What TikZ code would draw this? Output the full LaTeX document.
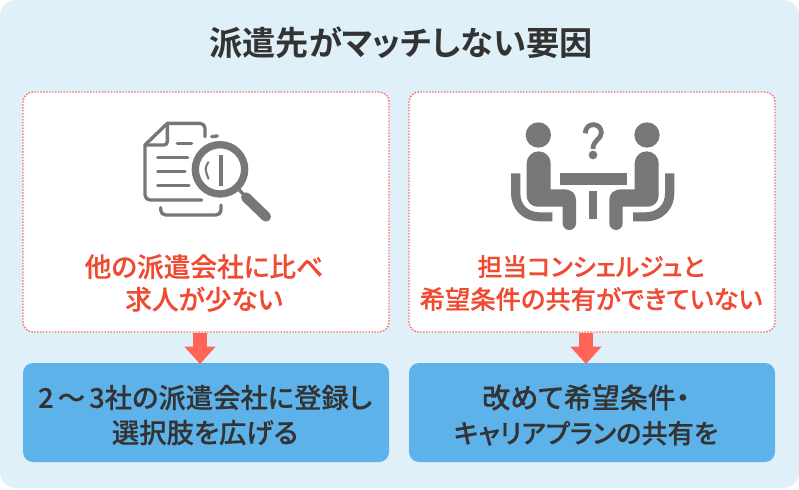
\documentclass[tikz,border=0pt]{standalone}
\usepackage{fontspec}
\setmainfont[RawFeature=+palt,BoldFont={* Medium},BoldFeatures={FakeBold=0.3}]{Noto Sans CJK JP}
\newfontfamily\titlefont[RawFeature=+palt]{Noto Sans CJK JP Bold}
\usetikzlibrary{arrows.meta}
\definecolor{bgblue}{HTML}{E0F0F9}
\definecolor{boxblue}{HTML}{5EB2EA}
\definecolor{redtxt}{HTML}{F04A32}
\definecolor{arrowred}{HTML}{FF6557}
\definecolor{dottedred}{HTML}{F7736A}
\definecolor{icongray}{HTML}{777777}
\definecolor{darktxt}{HTML}{333333}
\tikzset{
  px/.style={x=0.75pt,y=-0.75pt},
  panel/.style={draw=dottedred,fill=white,line width=1.1pt,dash pattern=on 1.1pt off 1.1pt,rounded corners=7.5pt,minimum width=274.5pt,minimum height=180pt,inner sep=0pt},
  actionbox/.style={fill=boxblue,rounded corners=7.5pt,minimum width=274.5pt,minimum height=74.25pt,inner sep=0pt,text=darktxt,font=\bfseries\fontsize{20.5pt}{26.25pt}\selectfont,align=center},
  redlabel/.style={text=redtxt,font=\bfseries\fontsize{20pt}{24.5pt}\selectfont,align=center,inner sep=0pt},
  titlelabel/.style={text=darktxt,font=\titlefont\fontsize{24.9pt}{26pt}\selectfont,inner sep=0pt},
  downarrow/.style={draw=arrowred,line width=10.5pt,-{Triangle[length=13pt,width=22.5pt,fill=arrowred]},shorten >=-1pt},
  iconline/.style={draw=icongray,line width=2.5pt,line cap=round,line join=round,fill=none},
  iconfill/.style={fill=icongray,draw=none},
  iconpx/.style={x=0.25pt,y=-0.25pt}
}
\begin{document}
\begin{tikzpicture}[px]
\useasboundingbox (0,0) rectangle (799,489);
\fill[bgblue,rounded corners=12pt] (0,0) rectangle (799,488);
\node[titlelabel] (title) at (401,43) {派遣先がマッチしない要因};
\node[panel] (p1) at (206,212) {};
\node[panel] (p2) at (592,212) {};
\node[actionbox] (a1) at (206,412.5) {};
\node[actionbox] (a2) at (592,412.5) {};
\node[actionbox,fill=none,minimum width=0pt,minimum height=0pt] (t1) at (205,415) {2\hspace{.15em}～\hspace{.15em}3社の派遣会社に登録し\\選択肢を広げる};
\node[actionbox,fill=none,minimum width=0pt,minimum height=0pt] (t2) at (586,415) {\fontsize{21pt}{26.25pt}\selectfont 改めて希望条件・\hspace{.3em}\\\fontsize{19.7pt}{26.25pt}\selectfont キャリアプランの共有を};
\node[redlabel] (r1) at (204,283) {他の派遣会社に比べ\\求人が少ない};
\node[redlabel,font=\bfseries\fontsize{19pt}{24.5pt}\selectfont] (r2) at (591,283) {\fontsize{18.6pt}{24.5pt}\selectfont 担当コンシェルジュと\\\fontsize{19pt}{24.5pt}\selectfont 希望条件の共有ができていない};
\draw[downarrow] ([xshift=-4.5pt]p1.south) -- ([xshift=-4.5pt]a1.north);
\draw[downarrow] ([xshift=-4.5pt]p2.south) -- ([xshift=-4.5pt]a2.north);
% document icon
\begin{scope}[shift={(120,100)},iconpx]
\draw[iconline] (255,110) -- (255,85) arc (0:-90:15) -- (142,70) -- (75,135) -- (75,285) arc (180:90:15) -- (245,300);
\draw[iconline] (142,72) -- (142,125) arc (0:90:10) -- (75,135);
\draw[iconline] (172,131) -- (215,131);
\draw[iconline] (275,110) -- (292,108);
\draw[iconline] (113,173) -- (203,173);
\draw[iconline] (113,215) -- (195,215);
\draw[iconline] (113,257) -- (207,257);
\draw[iconline] (122,323) -- (122,330) arc (180:90:15) -- (288,345) arc (90:0:15) -- (303,315);
\draw[icongray,line width=5.5pt] (300,208) circle (74);
\draw[iconline,line width=3pt,line cap=butt] (302,165) -- (302,258);
\draw[iconline,line width=1.5pt,line cap=butt] (266,185) .. controls (254,205) .. (266,238);
\draw[icongray,line width=2.5pt] (358,270) -- (372,285);
\draw[icongray,line width=7.5pt,line cap=round] (378,292) -- (438,350);
\end{scope}
% meeting icon
\begin{scope}[shift={(500,110)},iconpx]
\fill[iconfill] (115,75) circle (38);
\fill[iconfill] (441,75) circle (38);
% left person
\fill[iconfill] (80,160) arc (180:360:36) -- (152,238) -- (190,238) .. controls (215,238) and (228,250) .. (228,270) -- (228,340) arc (0:180:20) -- (188,290) -- (115,290) .. controls (92,290) and (80,275) .. (80,255) -- cycle;
% right person
\fill[iconfill] (476,160) arc (0:-180:36) -- (404,238) -- (366,238) .. controls (341,238) and (328,250) .. (328,270) -- (328,340) arc (180:0:20) -- (368,290) -- (441,290) .. controls (464,290) and (476,275) .. (476,255) -- cycle;
% chairs
\fill[iconfill] (33,190) -- (61,190) -- (61,250) .. controls (61,285) and (85,307) .. (120,307) -- (157,307) -- (157,334) -- (120,334) .. controls (65,334) and (33,295) .. (33,250) -- cycle;
\fill[iconfill] (523,190) -- (495,190) -- (495,250) .. controls (495,285) and (471,307) .. (436,307) -- (399,307) -- (399,334) -- (436,334) .. controls (491,334) and (523,295) .. (523,250) -- cycle;
% table
\fill[iconfill] (180,190) rectangle (382,225);
\fill[iconfill] (266,243) rectangle (290,327);
% question mark
\draw[icongray,line width=3.6pt] (256,70) .. controls (256,52) and (268,44) .. (280,44) .. controls (295,44) and (304,55) .. (304,68) .. controls (304,88) and (279,90) .. (279,117);
\fill[iconfill] (279,135) circle (13);
\end{scope}
\end{tikzpicture}
\end{document}
